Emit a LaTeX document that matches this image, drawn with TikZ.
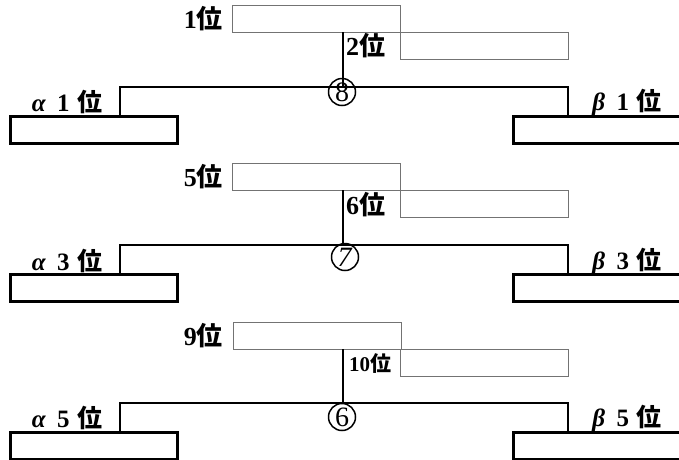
\documentclass[tikz,border=0pt]{standalone}
\usepackage{fontspec}
\setmainfont{Liberation Serif}
\newfontfamily\jp{Noto Sans CJK JP}
\begin{document}
\begin{tikzpicture}[x=1pt,y=-1pt,
  entry/.style={draw=black!55,line width=0.8pt,minimum width=168pt,minimum height=27pt,anchor=north west,inner sep=0pt},
  seat/.style={draw=black,line width=2.6pt,minimum width=167pt,minimum height=27pt,anchor=north west,inner sep=0pt},
  bracket/.style={draw=black,line width=2.6pt},
  stem/.style={draw=black,line width=2.2pt},
  circ/.style={draw=black,circle,line width=1.5pt,minimum size=27pt,inner sep=0pt,font=\fontsize{28}{28}\selectfont},
  rank/.style={inner sep=0pt,font=\fontsize{26}{26}\selectfont\bfseries},
  smallrank/.style={inner sep=0pt,font=\fontsize{21}{21}\selectfont\bfseries},
  side/.style={inner sep=0pt,font=\fontsize{25}{25}\selectfont\bfseries}
]
\useasboundingbox (0,0) rectangle (679,459);

% ---------- group 1 ----------
\node[entry] (a1) at (232,5) {};
\node[entry] (b1) at (400,32) {};
\node[seat] (l1) at (9,115) {};
\node[seat] (r1) at (512,115) {};
\coordinate (s1) at (343,32);
\coordinate (j1) at (343,87);
\coordinate (lc1) at (120,87);
\coordinate (rc1) at (568,87);
\coordinate (lb1) at (120,115);
\coordinate (rb1) at (568,115);
\draw[stem] (s1) -- (j1);
\draw[bracket] (lb1) -- (lc1) -- (rc1) -- (rb1);
\node[circ] (c1) at (342,92) {8};
\node[rank,anchor=east] (t1) at (223,19) {1{\jp 位}};
\node[rank,anchor=west] (t2) at (346,46) {2{\jp 位}};
\node[side] (al1) at (67,102) {\textit{α}\hspace{0.45em}1\hspace{0.3em}{\jp 位}};
\node[side] (be1) at (627,102) {\textit{β}\hspace{0.45em}1\hspace{0.3em}{\jp 位}};

% ---------- group 2 ----------
\node[entry] (a2) at (232,163) {};
\node[entry] (b2) at (400,190) {};
\node[seat] (l2) at (9,273) {};
\node[seat] (r2) at (512,273) {};
\coordinate (s2) at (343,190);
\coordinate (j2) at (343,245);
\coordinate (lc2) at (120,245);
\coordinate (rc2) at (568,245);
\coordinate (lb2) at (120,273);
\coordinate (rb2) at (568,273);
\draw[stem] (s2) -- (j2);
\draw[bracket] (lb2) -- (lc2) -- (rc2) -- (rb2);
\node[circ] (c2) at (345,257) {\textit{7}};
\node[rank,anchor=east] (t5) at (223,177) {5{\jp 位}};
\node[rank,anchor=west] (t6) at (346,205) {6{\jp 位}};
\node[side] (al2) at (67,261) {\textit{α}\hspace{0.45em}3\hspace{0.3em}{\jp 位}};
\node[side] (be2) at (627,261) {\textit{β}\hspace{0.45em}3\hspace{0.3em}{\jp 位}};

% ---------- group 3 ----------
\node[entry] (a3) at (233,322) {};
\node[entry] (b3) at (400,349) {};
\node[seat] (l3) at (9,431) {};
\node[seat] (r3) at (512,431) {};
\coordinate (s3) at (343,349);
\coordinate (j3) at (343,403);
\coordinate (lc3) at (120,403);
\coordinate (rc3) at (568,403);
\coordinate (lb3) at (120,431);
\coordinate (rb3) at (568,431);
\draw[stem] (s3) -- (j3);
\draw[bracket] (lb3) -- (lc3) -- (rc3) -- (rb3);
\node[circ] (c3) at (342,417) {6};
\node[rank,anchor=east] (t9) at (223,336) {9{\jp 位}};
\node[smallrank,anchor=west] (t10) at (349,363) {10{\jp 位}};
\node[side] (al3) at (67,418) {\textit{α}\hspace{0.45em}5\hspace{0.3em}{\jp 位}};
\node[side] (be3) at (627,418) {\textit{β}\hspace{0.45em}5\hspace{0.3em}{\jp 位}};
\end{tikzpicture}
\end{document}
